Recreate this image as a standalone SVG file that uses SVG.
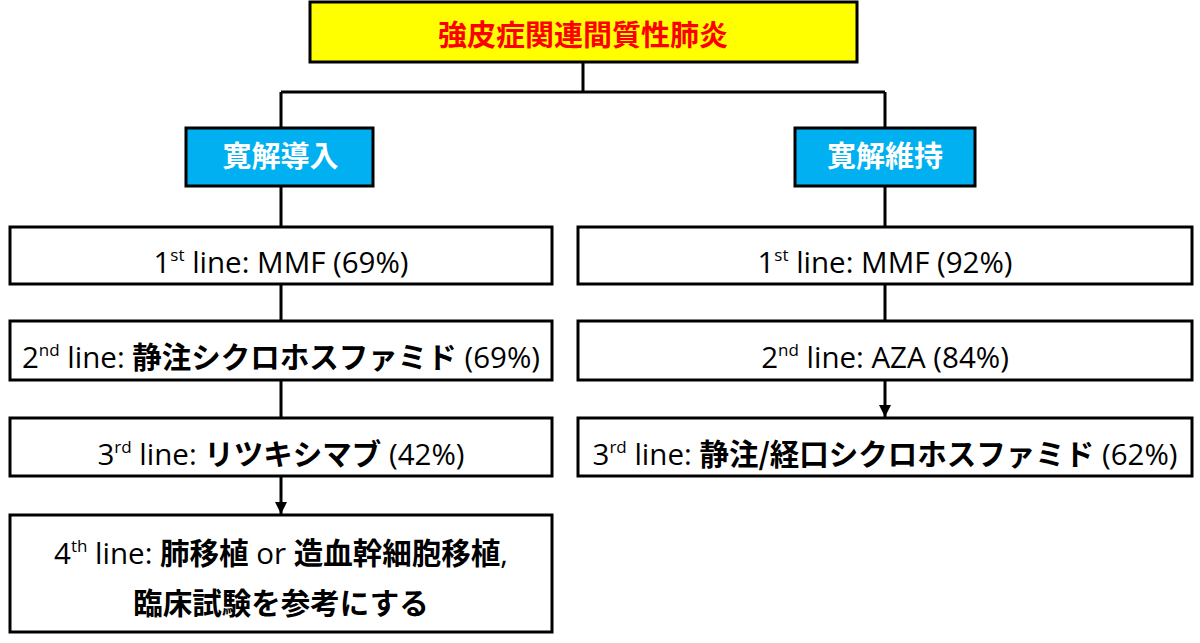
<svg xmlns="http://www.w3.org/2000/svg" width="1200" height="643" viewBox="0 0 1200 643">
<style>
.box{fill:#fff;stroke:#000;stroke-width:3}
.t{font-family:"Open Sans","Noto Sans CJK JP",sans-serif;font-size:29.5px;fill:#000;text-anchor:middle}
.j{font-family:"Noto Sans CJK JP",sans-serif;font-weight:bold;font-size:29.5px}
.sup{font-size:17px}
.ln{fill:none;stroke:#000;stroke-width:3}
.hd{font-family:"Noto Sans CJK JP",sans-serif;font-weight:bold;font-size:29px;text-anchor:middle}
</style>
<defs>
<marker id="arr" markerWidth="12" markerHeight="12" refX="12" refY="6" orient="auto" markerUnits="userSpaceOnUse">
<path d="M0,0 L12,6 L0,12 Z" fill="#000"/>
</marker>
</defs>
<rect width="1200" height="643" fill="#fff"/>
<g id="connectors">
<path class="ln" d="M583,62 V92 M281,92 H885 M281,92 V128 M885,92 V128"/>
<path class="ln" d="M281,186 V227 M885,186 V227"/>
<path class="ln" d="M281,284 V321 M281,380 V418"/>
<path class="ln" d="M281,476 V514" marker-end="url(#arr)"/>
<path class="ln" d="M885,284 V321"/>
<path class="ln" d="M885,380 V417" marker-end="url(#arr)"/>
</g>
<g id="root">
<rect x="310" y="2" width="547" height="60" fill="#FFFF00" stroke="#000" stroke-width="3"/>
<text class="hd" x="583" y="46" fill="#FF0000">強皮症関連間質性肺炎</text>
</g>
<g id="induction">
<rect x="186" y="128" width="187" height="58" fill="#00B0F0" stroke="#000" stroke-width="3"/>
<text class="hd" x="280.5" y="167" fill="#FFFFFF">寛解導入</text>
</g>
<g id="maintenance">
<rect x="795" y="128" width="180" height="58" fill="#00B0F0" stroke="#000" stroke-width="3"/>
<text class="hd" x="885" y="167" fill="#FFFFFF">寛解維持</text>
</g>
<g id="L1">
<rect class="box" x="10" y="227" width="542" height="57"/>
<text class="t" x="281" y="273">1<tspan class="sup" dy="-12">st</tspan><tspan dy="12"> line: MMF (69%)</tspan></text>
</g>
<g id="L2">
<rect class="box" x="10" y="321" width="542" height="59"/>
<text class="t" x="281" y="368">2<tspan class="sup" dy="-12">nd</tspan><tspan dy="12"> line: </tspan><tspan class="j">静注シクロホスファミド</tspan> (69%)</text>
</g>
<g id="L3">
<rect class="box" x="10" y="418" width="542" height="58"/>
<text class="t" x="281" y="465">3<tspan class="sup" dy="-12">rd</tspan><tspan dy="12"> line: </tspan><tspan class="j">リツキシマブ</tspan> (42%)</text>
</g>
<g id="L4">
<rect class="box" x="10" y="515" width="542" height="117"/>
<text class="t" x="281" y="564">4<tspan class="sup" dy="-12">th</tspan><tspan dy="12"> line: </tspan><tspan class="j">肺移植</tspan> or <tspan class="j">造血幹細胞移植</tspan>,</text>
<text class="t" x="281" y="614"><tspan class="j">臨床試験を参考にする</tspan></text>
</g>
<g id="R1">
<rect class="box" x="578" y="227" width="614" height="57"/>
<text class="t" x="885" y="273">1<tspan class="sup" dy="-12">st</tspan><tspan dy="12"> line: MMF (92%)</tspan></text>
</g>
<g id="R2">
<rect class="box" x="578" y="321" width="614" height="59"/>
<text class="t" x="885" y="368">2<tspan class="sup" dy="-12">nd</tspan><tspan dy="12"> line: AZA (84%)</tspan></text>
</g>
<g id="R3">
<rect class="box" x="578" y="418" width="614" height="58"/>
<text class="t" x="885" y="465">3<tspan class="sup" dy="-12">rd</tspan><tspan dy="12"> line: </tspan><tspan class="j">静注/経口シクロホスファミド</tspan> (62%)</text>
</g>
</svg>
